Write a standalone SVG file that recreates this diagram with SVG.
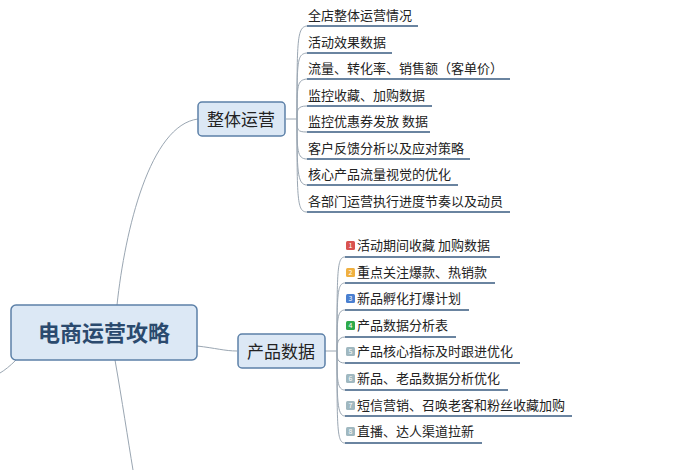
<svg xmlns="http://www.w3.org/2000/svg" width="700" height="470" viewBox="0 0 700 470">
<style>
text{font-family:"Noto Sans CJK SC","Liberation Sans",sans-serif;fill:#222}
.it{font-size:13px}
.ul{stroke:#6a84a0;stroke-width:2}
.br{fill:none;stroke:#9aa6b2;stroke-width:1}
.node{fill:#dce8f5;stroke:#5c80a8;stroke-width:1.5}
.num{font-size:7px;fill:#fff;text-anchor:middle}
</style>
<rect width="700" height="470" fill="#fff"/>
<g id="connectors" class="br">
<path d="M117 305 C125 230 150 125 198 119"/>
<path d="M115 360 C122 400 128 440 133 470"/>
<path d="M16 360 C10 366 5 370 0 373"/>
<path d="M197 346 C215 348 225 351 237 351"/>
<path d="M286 119 H297"/>
<path d="M297 119 C297 40 297 27 307 26 M297 119 C297 60 297 54 307 53 M297 119 C297 85 297 80 307 79 M297 119 C297 110 297 106 307 106 M297 119 C297 130 297 132 307 132 M297 119 C297 150 297 159 307 159 M297 119 C297 170 297 185 307 185 M297 119 C297 200 297 212 307 212"/>
<path d="M325 351 H337"/>
<path d="M337 351 C337 270 337 257 345 257 M337 351 C337 295 337 283 345 283 M337 351 C337 320 337 310 345 310 M337 351 C337 345 337 337 345 337 M337 351 C337 358 337 363 345 363 M337 351 C337 380 337 390 345 390 M337 351 C337 400 337 416 345 416 M337 351 C337 430 337 443 345 443"/>
</g>
<g id="lines">
<line class="ul" x1="307" y1="26" x2="418" y2="26"/>
<line class="ul" x1="307" y1="53" x2="392" y2="53"/>
<line class="ul" x1="307" y1="79" x2="510" y2="79"/>
<line class="ul" x1="307" y1="106" x2="432" y2="106"/>
<line class="ul" x1="307" y1="132" x2="430" y2="132"/>
<line class="ul" x1="307" y1="159" x2="470" y2="159"/>
<line class="ul" x1="307" y1="185" x2="458" y2="185"/>
<line class="ul" x1="307" y1="212" x2="510" y2="212"/>
<line class="ul" x1="345" y1="257" x2="500" y2="257"/>
<line class="ul" x1="345" y1="283" x2="495" y2="283"/>
<line class="ul" x1="345" y1="310" x2="469" y2="310"/>
<line class="ul" x1="345" y1="337" x2="456" y2="337"/>
<line class="ul" x1="345" y1="363" x2="520" y2="363"/>
<line class="ul" x1="345" y1="390" x2="508" y2="390"/>
<line class="ul" x1="345" y1="416" x2="572" y2="416"/>
<line class="ul" x1="345" y1="443" x2="482" y2="443"/>
</g>
<g id="center"><rect class="node" x="11" y="305" width="186" height="55" rx="5" stroke-width="3"/>
<text x="104" y="341" font-size="22" font-weight="bold" text-anchor="middle" style="fill:#2b4a6e">电商运营攻略</text></g>
<g id="n1"><rect class="node" x="198" y="102" width="87" height="34" rx="4"/>
<text x="241" y="126" font-size="17" text-anchor="middle">整体运营</text></g>
<g id="n2"><rect class="node" x="238" y="334" width="87" height="34" rx="4"/>
<text x="281" y="358" font-size="17" text-anchor="middle">产品数据</text></g>
<g id="top-items">
<text class="it" x="308" y="20">全店整体运营情况</text>
<text class="it" x="308" y="47">活动效果数据</text>
<text class="it" x="308" y="73">流量、转化率、销售额（客单价）</text>
<text class="it" x="308" y="100">监控收藏、加购数据</text>
<text class="it" x="308" y="126">监控优惠券发放 数据</text>
<text class="it" x="308" y="153">客户反馈分析以及应对策略</text>
<text class="it" x="308" y="179">核心产品流量视觉的优化</text>
<text class="it" x="308" y="206">各部门运营执行进度节奏以及动员</text>
</g>
<g id="bottom-items">
<rect x="346" y="241" width="9" height="9" rx="1.5" fill="#d9534f"/><text class="num" x="350.5" y="248">1</text>
<text class="it" x="357" y="250">活动期间收藏 加购数据</text>
<rect x="346" y="268" width="9" height="9" rx="1.5" fill="#f0b040"/><text class="num" x="350.5" y="275">2</text>
<text class="it" x="357" y="277">重点关注爆款、热销款</text>
<rect x="346" y="294" width="9" height="9" rx="1.5" fill="#4a7fd0"/><text class="num" x="350.5" y="301">3</text>
<text class="it" x="357" y="303">新品孵化打爆计划</text>
<rect x="346" y="321" width="9" height="9" rx="1.5" fill="#2eaa4a"/><text class="num" x="350.5" y="328">4</text>
<text class="it" x="357" y="330">产品数据分析表</text>
<rect x="346" y="347" width="9" height="9" rx="1.5" fill="#a0b8c0"/><text class="num" x="350.5" y="354">5</text>
<text class="it" x="357" y="356">产品核心指标及时跟进优化</text>
<rect x="346" y="374" width="9" height="9" rx="1.5" fill="#a0b8c0"/><text class="num" x="350.5" y="381">6</text>
<text class="it" x="357" y="383">新品、老品数据分析优化</text>
<rect x="346" y="401" width="9" height="9" rx="1.5" fill="#a0b8c0"/><text class="num" x="350.5" y="408">7</text>
<text class="it" x="357" y="410">短信营销、召唤老客和粉丝收藏加购</text>
<rect x="346" y="427" width="9" height="9" rx="1.5" fill="#a0b8c0"/><text class="num" x="350.5" y="434">8</text>
<text class="it" x="357" y="436">直播、达人渠道拉新</text>
</g>
</svg>
